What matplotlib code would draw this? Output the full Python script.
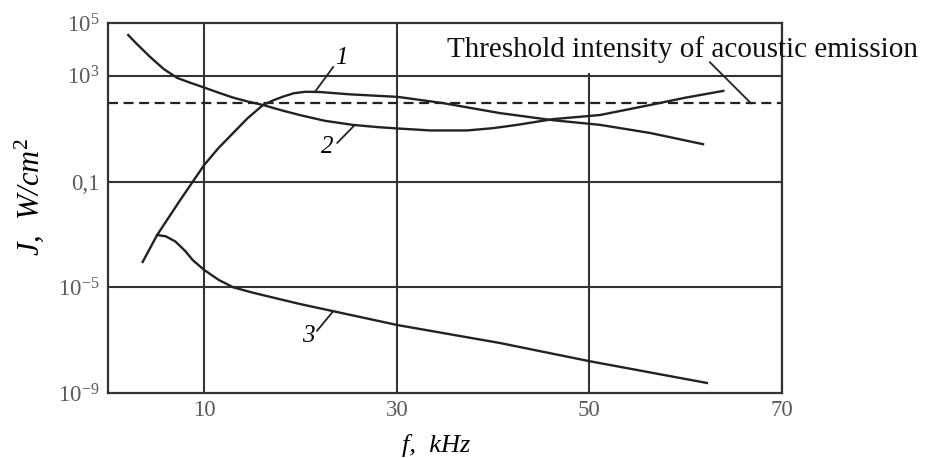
import matplotlib
matplotlib.use("Agg")
import matplotlib.pyplot as plt

# curve 1: acoustic intensity needed (rises, peaks near 20 kHz)
curve1_f = [3.6, 5.1, 7.5, 10.0, 11.5, 13.0, 14.5, 16.1, 17.2, 18.2, 19.3, 20.5, 22.0,
            25.1, 30.1, 34.8, 40.7, 46.2, 51.1, 56.3, 61.8]
curve1_j = [9.1e-5, 9.5e-4, 2.0e-2, 0.43, 1.9, 6.9, 25, 79, 120, 165, 220, 250, 245,
            200, 160, 93, 39, 21, 14, 6.9, 2.6]

# curve 2: falls from top left, minimum near 35 kHz, rises again
curve2_f = [2.1, 3.0, 4.4, 5.8, 7.2, 8.6, 10.0, 11.5, 13.0, 14.5, 16.1, 18.0, 19.9, 22.5,
            25.4, 28.0, 30.1, 33.5, 37.3, 40.0, 42.5, 46.2, 51.1, 56.3, 60.0, 63.9]
curve2_j = [3.5e4, 1.6e4, 5.1e3, 1.8e3, 830, 540, 360, 230, 150, 107, 79, 50, 33, 20,
            14, 11.5, 10.2, 8.6, 8.6, 10.5, 14, 23, 33, 79, 150, 270]

# curve 3: lowest curve
curve3_f = [5.1, 6.0, 7.0, 8.0, 8.8, 10.0, 11.5, 13.0, 15.0, 17.5, 20.0, 30.1, 40.7, 50.0, 62.2]
curve3_j = [9.5e-4, 8.5e-4, 5.4e-4, 2.4e-4, 1.07e-4, 4.5e-5, 1.9e-5, 1.0e-5, 6.3e-6,
            3.8e-6, 2.3e-6, 3.7e-7, 7.8e-8, 1.6e-8, 2.4e-9]

threshold = 90  # threshold intensity of acoustic emission

x_ticks = [10, 30, 50, 70]
y_ticks = [1e-9, 1e-5, 0.1, 1e3, 1e5]
y_tick_labels = [r"$10^{-9}$", r"$10^{-5}$", "0,1", r"$10^{3}$", r"$10^{5}$"]

plt.rcParams["font.family"] = ["Liberation Serif", "DejaVu Serif"]
plt.rcParams["mathtext.fontset"] = "custom"
plt.rcParams["mathtext.rm"] = "Liberation Serif"
plt.rcParams["mathtext.it"] = "Liberation Serif:italic"

ink = "#222222"
grid = "#333333"

fig = plt.figure(figsize=(9.34, 4.58), dpi=100)
ax = fig.add_axes([108 / 934, 1 - 393 / 458, 674 / 934, 370 / 458])
ax.set_yscale("log")
ax.set_xlim(0, 70)
ax.set_ylim(1e-9, 1e5)

# grid lines (the 50 kHz line stops below the caption)
for xv in x_ticks:
    ax.axvline(xv, ymax=0.862 if xv == 50 else 1, color=grid, lw=1.5, zorder=1)
for yv in y_ticks[1:-1]:
    ax.axhline(yv, color=grid, lw=1.5, zorder=1)

ax.axhline(threshold, color=ink, lw=1.6, ls=(0, (4.5, 2.5)), zorder=2)

ax.plot(curve1_f, curve1_j, color=ink, lw=1.7, zorder=3)
ax.plot(curve2_f, curve2_j, color=ink, lw=1.7, zorder=3)
ax.plot(curve3_f, curve3_j, color=ink, lw=1.7, zorder=3)

for s in ax.spines.values():
    s.set_color(grid)
    s.set_linewidth(1.6)

ax.set_xticks(x_ticks)
ax.set_xticklabels([str(v) for v in x_ticks])
ax.set_yticks(y_ticks)
ax.set_yticklabels(y_tick_labels)
ax.minorticks_off()
ax.tick_params(length=0, labelsize=16.5, labelcolor="#5a5a5a")
ax.tick_params(axis="y", pad=6)
ax.tick_params(axis="x", pad=5)

ax.set_xlabel("f,  kHz", fontsize=19, style="italic")
ax.xaxis.set_label_coords(0.487, -0.11)
ax.set_ylabel(r"J,  W/cm$^{\mathit{2}}$", fontsize=22, style="italic")
ax.yaxis.set_label_coords(-0.092, 0.53)

# caption for the dashed line
ax.text(35.2, 5100, "Threshold intensity of acoustic emission", fontsize=21,
        ha="left", va="baseline", color="#111111", clip_on=False)
leader = dict(arrowstyle="-", color=ink, lw=1.3, shrinkA=0, shrinkB=0)
ax.annotate("", xy=(66.8, threshold), xytext=(62.5, 3300), arrowprops=leader)

# curve numbers with leader lines
ax.text(24.2, 10 ** 3.68, "1", fontsize=18, style="italic", ha="center", va="center")
ax.annotate("", xy=(21.5, 250), xytext=(23.4, 10 ** 3.34), arrowprops=leader)
ax.text(22.8, 10 ** 0.31, "2", fontsize=18, style="italic", ha="center", va="center")
ax.annotate("", xy=(25.6, 13.5), xytext=(23.8, 10 ** 0.46), arrowprops=leader)
ax.text(20.8, 10 ** -6.84, "3", fontsize=18, style="italic", ha="center", va="center")
ax.annotate("", xy=(23.4, 10 ** -5.9), xytext=(21.7, 10 ** -6.65), arrowprops=leader)

fig.savefig("out.png", dpi=100)
